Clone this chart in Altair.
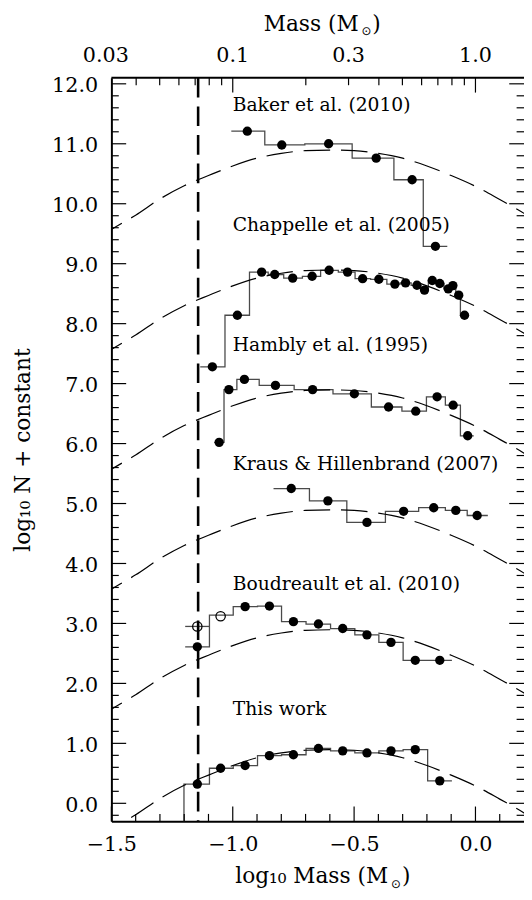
import altair as alt
import pandas as pd
import numpy as np

W, H = 419, 755
XD = [-1.5, 0.2]
YD = [-0.3, 12.1]
FONT = "DejaVu Serif"

# ---------------- data ----------------
names = ["Baker et al. (2010)", "Chappelle et al. (2005)", "Hambly et al. (1995)",
         "Kraus & Hillenbrand (2007)", "Boudreault et al. (2010)", "This work"]
label_x = [-1.0, -1.0, -1.0, -1.0, -1.0, -1.0]
label_y = [11.55, 9.55, 7.55, 5.56, 3.55, 1.47]
curve_offset = [10, 8, 6, 4, 2, 0]

baker_x = [-0.940, -0.798, -0.605, -0.409, -0.261, -0.165]
baker_y = [11.21, 10.98, 11.00, 10.76, 10.40, 9.29]
baker_edges = [-1.006, -0.868, -0.703, -0.508, -0.336, -0.215, -0.116]

chap_x = [-1.084, -0.981, -0.881, -0.827, -0.753, -0.673, -0.603, -0.527, -0.465, -0.398,
          -0.332, -0.288, -0.241, -0.210, -0.178, -0.147, -0.112, -0.093, -0.069, -0.045]
chap_y = [7.28, 8.14, 8.86, 8.82, 8.76, 8.79, 8.89, 8.86, 8.75, 8.74,
          8.66, 8.68, 8.64, 8.56, 8.72, 8.67, 8.58, 8.635, 8.475, 8.14]
chap_edges = [-1.134, -1.032, -0.931, -0.854, -0.790, -0.713, -0.638, -0.565, -0.496, -0.432,
              -0.365, -0.310, -0.265, -0.226, -0.194, -0.163, -0.130, -0.103, -0.081, -0.062, -0.030]

hamb_x = [-1.056, -1.016, -0.952, -0.824, -0.671, -0.499, -0.358, -0.246, -0.158, -0.092, -0.032]
hamb_y = [6.02, 6.90, 7.07, 6.97, 6.90, 6.83, 6.61, 6.54, 6.78, 6.64, 6.13]
hamb_edges = [-1.076, -1.036, -0.983, -0.891, -0.747, -0.587, -0.429, -0.303, -0.202, -0.124, -0.062, -0.007]

kraus_x = [-0.759, -0.608, -0.447, -0.296, -0.172, -0.081, 0.007]
kraus_y = [5.25, 5.045, 4.685, 4.87, 4.93, 4.885, 4.80]
kraus_edges = [-0.832, -0.684, -0.530, -0.371, -0.234, -0.124, -0.034, 0.051]

boud_x = [-1.146, -0.949, -0.849, -0.750, -0.647, -0.547, -0.447, -0.348, -0.248, -0.147]
boud_y = [2.61, 3.28, 3.29, 3.03, 2.99, 2.915, 2.81, 2.685, 2.385, 2.385]
boud_edges = [-1.196, -1.096, -0.998, -0.898, -0.799, -0.698, -0.597, -0.497, -0.398, -0.298, -0.197, -0.097]
boud_hist = [2.61, 3.14, 3.28, 3.29, 3.03, 2.99, 2.915, 2.81, 2.685, 2.385, 2.385]
boud_open_x = [-1.146, -1.050]
boud_open_y = [2.95, 3.12]
boud_open_edges = [-1.196, -1.096]
boud_open_hist = [2.95]

this_x = [-1.146, -1.050, -0.949, -0.849, -0.750, -0.647, -0.547, -0.447, -0.348, -0.248, -0.147]
this_y = [0.32, 0.585, 0.63, 0.795, 0.81, 0.915, 0.875, 0.84, 0.875, 0.895, 0.375]
this_edges = [-1.201, -1.096, -0.998, -0.898, -0.799, -0.698, -0.597, -0.497, -0.398, -0.298, -0.197, -0.097]

# log-normal model curve (shape, for the "This work" level)
curve_x = [-1.55, -1.5, -1.4, -1.3, -1.2, -1.1, -1.0, -0.9, -0.8, -0.7, -0.6,
           -0.5, -0.4, -0.3, -0.2, -0.1, 0.0, 0.1, 0.2, 0.25]
curve_y = [-0.56, -0.43, -0.19, 0.08, 0.30, 0.47, 0.63, 0.76, 0.84, 0.885, 0.895,
           0.885, 0.84, 0.76, 0.63, 0.47, 0.29, 0.07, -0.16, -0.29]

hbl_mass = 0.072  # vertical dashed line (M_sun)

top_tick_mass = [0.03, 0.1, 0.3, 1.0]
top_tick_labels = ["0.03", "0.1", "0.3", "1.0"]
top_major_mass = [0.1, 1.0]
top_minor_mass = [0.04, 0.05, 0.06, 0.07, 0.08, 0.09, 0.2, 0.3, 0.4, 0.5, 0.6, 0.7, 0.8, 0.9]
bottom_major = [-1.5, -1.0, -0.5, 0.0]
bottom_minor = [-1.4, -1.3, -1.2, -1.1, -0.9, -0.8, -0.7, -0.6, -0.4, -0.3, -0.2, -0.1, 0.1]
left_major = [0, 1, 2, 3, 4, 5, 6, 7, 8, 9, 10, 11, 12]
left_minor = [round(v, 1) for v in np.arange(-0.2, 12.01, 0.2) if abs(v - round(v)) > 0.05]

# ---------------- tables ----------------
def hist_rows(series, edges, vals, floor=None):
    rows = []
    k = 0
    if floor is not None:
        rows.append(dict(series=series, i=k, x=edges[0], y=floor)); k += 1
    for e, v in zip(edges[:-1], vals):
        rows.append(dict(series=series, i=k, x=e, y=v)); k += 1
    rows.append(dict(series=series, i=k, x=edges[-1], y=vals[-1]))
    return rows

hist = []
hist += hist_rows("baker", baker_edges, baker_y)
hist += hist_rows("chap", chap_edges, chap_y)
hist += hist_rows("hamb", hamb_edges, hamb_y)
hist += hist_rows("kraus", kraus_edges, kraus_y)
hist += hist_rows("boud", boud_edges, boud_hist)
hist += hist_rows("boud_open", boud_open_edges, boud_open_hist)
hist += hist_rows("this", this_edges, this_y, floor=YD[0])
hist_df = pd.DataFrame(hist)

pts = pd.DataFrame({
    "x": baker_x + chap_x + hamb_x + kraus_x + boud_x + this_x,
    "y": baker_y + chap_y + hamb_y + kraus_y + boud_y + this_y,
})
open_df = pd.DataFrame({"x": boud_open_x, "y": boud_open_y})

curve_rows = []
for n, off in zip(names, curve_offset):
    for i, (cx, cy) in enumerate(zip(curve_x, curve_y)):
        curve_rows.append(dict(series=n, i=i, x=cx, y=cy + off))
curve_df = pd.DataFrame(curve_rows)

labels_df = pd.DataFrame({"name": names, "x": label_x, "y": label_y})
hbl_df = pd.DataFrame({"x": [np.log10(hbl_mass)]})
top_lab_df = pd.DataFrame({"x": np.log10(top_tick_mass), "t": top_tick_labels})

# ---------------- scales / axes ----------------
xs = alt.Scale(domain=XD, nice=False, zero=False)
ys = alt.Scale(domain=YD, nice=False, zero=False)

x_axis = alt.Axis(values=bottom_major, format=".1f", grid=False, ticks=False, tickSize=0,
                  domain=True, domainColor="black", domainWidth=2,
                  labelFont=FONT, labelFontSize=21, labelColor="black",
                  labelPadding=30, labelBaseline="alphabetic", labelFlush=False, labelOverlap=False,
                  title=None)
y_axis = alt.Axis(values=left_major, format=".1f", grid=False, ticks=False, tickSize=0,
                  domain=True, domainColor="black", domainWidth=2,
                  labelFont=FONT, labelFontSize=21, labelColor="black",
                  labelPadding=14, labelBaseline="alphabetic", labelOffset=8,
                  labelFlush=False, labelOverlap=False,
                  title="log\u2081\u2080 N + constant", titleFont=FONT, titleFontSize=22,
                  titleFontWeight="normal", titleColor="black", titleAngle=-90,
                  titleX=-83, titleY=H / 2, titleBaseline="alphabetic", titleAlign="center")

X = lambda f="x": alt.X(f"{f}:Q", scale=xs, axis=x_axis)
Y = lambda f="y": alt.Y(f"{f}:Q", scale=ys, axis=y_axis)

# ---------------- layers ----------------
hist_layer = alt.Chart(hist_df).mark_line(interpolate="step-after", color="#4a4a4a",
                                          strokeWidth=1.3).encode(
    x=X(), y=Y(), detail="series:N", order="i:Q")

curve_layer = alt.Chart(curve_df).mark_line(interpolate="monotone", color="black",
                                            strokeWidth=1.2, strokeDash=[27, 11], clip=True).encode(
    x=X(), y=Y(), detail="series:N", order="i:Q")

hbl_layer = alt.Chart(hbl_df).mark_rule(color="black", strokeWidth=2.6, strokeDash=[20, 9]).encode(x=X())

pt_layer = alt.Chart(pts).mark_circle(size=90, color="black", opacity=1).encode(x=X(), y=Y())
open_layer = alt.Chart(open_df).mark_point(shape="circle", size=90, filled=False, color="black",
                                           strokeWidth=1.3, opacity=1).encode(x=X(), y=Y())

text_layer = alt.Chart(labels_df).mark_text(align="left", baseline="alphabetic", font=FONT,
                                            fontSize=19, color="black").encode(
    x=X(), y=Y(), text="name:N")

top_labels = alt.Chart(top_lab_df).mark_text(align="center", baseline="alphabetic", font=FONT,
                                             fontSize=21, color="black").encode(
    x=X(), y=alt.value(-16), text="t:N")


def title_parts(main, y_base, x_m_end, x_sun, x_paren):
    d = pd.DataFrame({"t": [main]})
    a = alt.Chart(d).mark_text(align="right", baseline="alphabetic", font=FONT, fontSize=22,
                               color="black").encode(x=alt.value(x_m_end), y=alt.value(y_base), text="t:N")
    b = alt.Chart(pd.DataFrame({"t": ["\u2299"]})).mark_text(
        align="center", baseline="alphabetic", font="DejaVu Sans", fontSize=12,
        color="black").encode(x=alt.value(x_sun), y=alt.value(y_base + 5), text="t:N")
    c = alt.Chart(pd.DataFrame({"t": [")"]})).mark_text(
        align="left", baseline="alphabetic", font=FONT, fontSize=22,
        color="black").encode(x=alt.value(x_paren), y=alt.value(y_base), text="t:N")
    return [a, b, c]

top_title = title_parts("Mass (M", -48, 251, 259, 265)
bottom_title = title_parts("log\u2081\u2080 Mass (M", H + 63, 281, 289, 295)

one = pd.DataFrame({"a": [0]})
top_frame = alt.Chart(one).mark_rule(color="black", strokeWidth=2).encode(
    x=alt.value(0), x2=alt.value(W), y=alt.value(0))

def ydf(v):
    return pd.DataFrame({"y": v})

def xdf(v):
    return pd.DataFrame({"x": v})

tick_style = dict(color="black", strokeWidth=1.2)
ticks = [
    alt.Chart(ydf(left_major)).mark_rule(**tick_style).encode(y=Y(), x=alt.value(0), x2=alt.value(15)),
    alt.Chart(ydf(left_minor)).mark_rule(**tick_style).encode(y=Y(), x=alt.value(0), x2=alt.value(7.5)),
    alt.Chart(ydf(left_major)).mark_rule(**tick_style).encode(y=Y(), x=alt.value(W), x2=alt.value(W - 15)),
    alt.Chart(ydf(left_minor)).mark_rule(**tick_style).encode(y=Y(), x=alt.value(W), x2=alt.value(W - 7.5)),
    alt.Chart(xdf(bottom_major)).mark_rule(**tick_style).encode(x=X(), y=alt.value(H), y2=alt.value(H - 15)),
    alt.Chart(xdf(bottom_minor)).mark_rule(**tick_style).encode(x=X(), y=alt.value(H), y2=alt.value(H - 7.5)),
    alt.Chart(xdf(np.log10(top_major_mass))).mark_rule(**tick_style).encode(x=X(), y=alt.value(0), y2=alt.value(15)),
    alt.Chart(xdf(np.log10(top_minor_mass))).mark_rule(**tick_style).encode(x=X(), y=alt.value(0), y2=alt.value(7.5)),
]

chart = alt.layer(
    hist_layer, curve_layer, hbl_layer, *ticks, top_frame,
    pt_layer, open_layer, text_layer, top_labels, *top_title, *bottom_title
).properties(
    width=W, height=H,
    autosize=alt.AutoSizeParams(type="none"),
    padding={"left": 105, "top": 64, "right": 0, "bottom": 72},
    background="white",
).configure_view(stroke=None)

chart.save("out.html", embed_options={"renderer": "svg", "actions": False})
